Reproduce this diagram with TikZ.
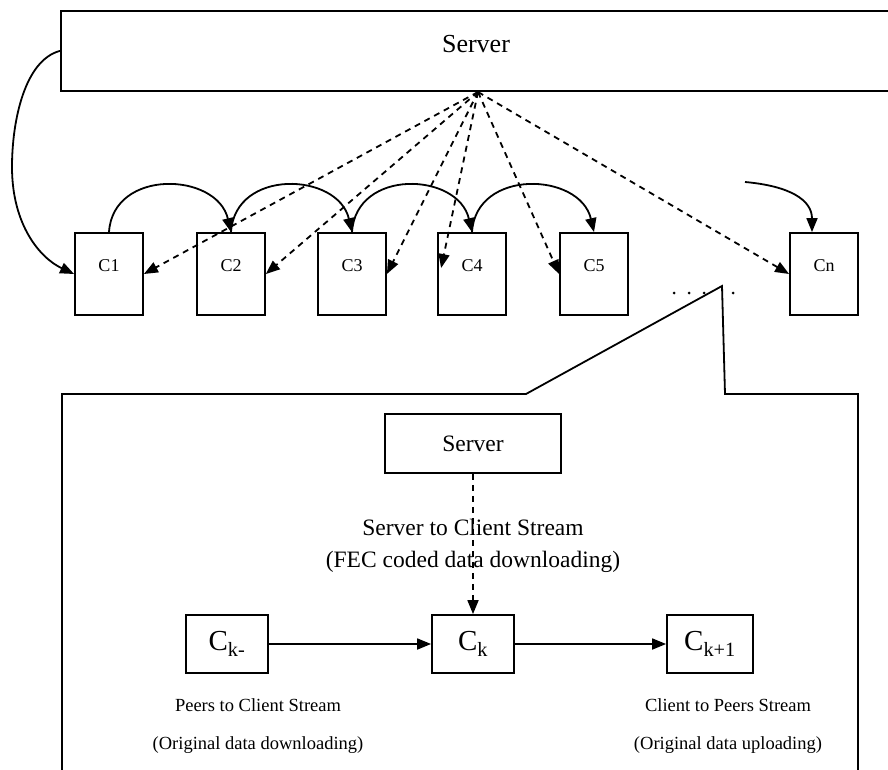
\documentclass[tikz,border=0pt]{standalone}
\usepackage{fontspec}
\setmainfont{Liberation Serif}
\usetikzlibrary{arrows.meta}
\begin{document}
\begin{tikzpicture}[x=1pt,y=-1pt,
  line width=1.8pt,
  box/.style={draw, line width=1.8pt, inner sep=0pt},
  client/.style={box, minimum width=68pt, minimum height=82pt},
  clabel/.style={font=\fontsize{18}{20}\selectfont, inner sep=0pt},
  peer/.style={box, minimum width=82pt, minimum height=58pt, font=\fontsize{29}{32}\selectfont},
  caption/.style={font=\fontsize{23.5}{26}\selectfont, inner sep=0pt},
  smallcap/.style={font=\fontsize{18.5}{22}\selectfont, inner sep=0pt},
  tip/.style={-{Triangle[length=14pt,width=11pt]}},
  stream/.style={tip, dash pattern=on 6pt off 5pt},
  flow/.style={tip}
]
\useasboundingbox (0,0) rectangle (888,770);

% top-level server
\node[box, minimum width=840pt, minimum height=80pt, anchor=north west] (srv) at (60,10) {};
\node[font=\fontsize{26}{30}\selectfont, inner sep=0pt] (srvl) at (476,44) {Server};
\coordinate (hub) at (478,92);

% clients
\node[client] (c1) at (109,274) {};
\node[client] (c2) at (231,274) {};
\node[client] (c3) at (352,274) {};
\node[client] (c4) at (472,274) {};
\node[client] (c5) at (594,274) {};
\node[client] (cn) at (824,274) {};
\node[clabel] (c1l) at ([yshift=8pt]c1.center) {C1};
\node[clabel] (c2l) at ([yshift=8pt]c2.center) {C2};
\node[clabel] (c3l) at ([yshift=8pt]c3.center) {C3};
\node[clabel] (c4l) at ([yshift=8pt]c4.center) {C4};
\node[clabel] (c5l) at ([yshift=8pt]c5.center) {C5};
\node[clabel] (cnl) at ([yshift=8pt]cn.center) {Cn};

% server to the first client
\draw[flow] (srv.west) .. controls (25,60) and (12,120) .. (12,167)
  .. controls (12,225) and (40,258) .. (c1.west);

% client to client relays
\draw[flow] (c1.north) .. controls +(4,-64) and +(-14,-60) .. (c2.north);
\draw[flow] (c2.north) .. controls +(4,-64) and +(-14,-60) .. (c3.north);
\draw[flow] (c3.north) .. controls +(4,-64) and +(-14,-60) .. (c4.north);
\draw[flow] (c4.north) .. controls +(4,-64) and +(-14,-60) .. (c5.north);
\coordinate (cnfrom) at (745,182);
\draw[flow] (cnfrom) .. controls (790,186) and (812,200) .. ([xshift=-12pt]cn.north);

% server streams to every client
\coordinate (c4in) at ([xshift=4pt,yshift=6pt]c4.west);
\draw[stream] (hub) -- (c1.east);
\draw[stream] (hub) -- (c2.east);
\draw[stream] (hub) -- (c3.east);
\draw[stream] (hub) -- (c4in);
\draw[stream] (hub) -- (c5.west);
\draw[stream] (hub) -- (cn.west);

% ellipsis between C5 and Cn
\foreach \x in {674,689,704,733} \fill (\x,293) circle (1.5pt);

% detail callout
\draw (62,770) -- (62,394) -- (526,394) -- (722,286) -- (725,394) -- (858,394) -- (858,770);

\node[box, minimum width=176pt, minimum height=59pt] (isrv) at (473,443.5) {};
\node[caption] (isrvl) at (isrv.center) {Server};

\node[peer] (ckm) at (227,644) {C\textsubscript{k-}};
\node[peer] (ck) at (473,644) {C\textsubscript{k}};
\node[peer, minimum width=86pt] (ckp) at (710,644) {C\textsubscript{k+1}};

\draw[stream] (isrv.south) -- (ck.north);
\node[caption] (s2c) at (473,527) {Server to Client Stream};
\node[caption] (s2c2) at (473,562) {(FEC coded data downloading)};

\draw[flow] (ckm.east) -- (ck.west);
\draw[flow] (ck.east) -- (ckp.west);

\node[smallcap] (p2c) at (258,705) {Peers to Client Stream};
\node[smallcap] (p2c2) at (258,745) {(Original data downloading)};
\node[smallcap] (c2p) at (728,705) {Client to Peers Stream};
\node[smallcap] (c2p2) at (728,745) {(Original data uploading)};
\end{tikzpicture}
\end{document}
